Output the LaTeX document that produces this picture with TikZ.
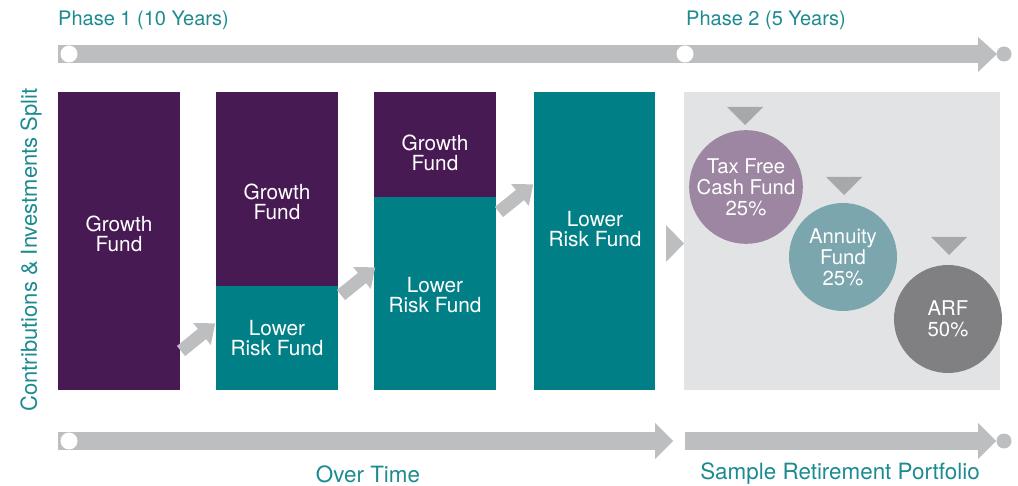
\documentclass[tikz,border=0pt]{standalone}
\usepackage{fontspec}
\setmainfont{TeX Gyre Heros}
\usetikzlibrary{calc}
\definecolor{purp}{HTML}{481A53}
\definecolor{tealc}{HTML}{008086}
\definecolor{txtteal}{HTML}{1C8B91}
\definecolor{bargrey}{HTML}{BDBEC0}
\definecolor{panelgrey}{HTML}{E2E3E5}
\definecolor{trigrey}{HTML}{A7A8AA}
\definecolor{mauve}{HTML}{9C86A1}
\definecolor{bluegrey}{HTML}{7BA6AE}
\definecolor{darkgrey}{HTML}{808083}
\tikzset{
  boxtext/.style={text=white, align=center, font=\fontsize{20.8}{20.5}\selectfont},
  headtext/.style={text=txtteal, font=\fontsize{20}{22}\selectfont, inner sep=0pt},
  fundcircle/.style={circle, minimum size=108pt, inner sep=0pt, text=white, align=center, font=\fontsize{20.3}{21}\selectfont},
  bar/.style={fill=bargrey, draw=none},
  marker/.style={fill=trigrey, draw=none},
}
\begin{document}
\begin{tikzpicture}[x=1pt,y=-1pt]
\useasboundingbox (0,0) rectangle (1018,486);
% top timeline
\fill[bar] (58,45) rectangle (978,63);
\fill[bar] (978,37) -- (997,54) -- (978,72) -- cycle;
\fill[white] (69,54) circle (8.5);
\fill[white] (685,54) circle (8.5);
\fill[bar] (1004,54) circle (7.5);
\node[headtext, anchor=west] (ph1) at (58,20) {Phase 1 (10 Years)};
\node[headtext, anchor=west] (ph2) at (686,20) {Phase 2 (5 Years)};
% bottom timeline
\fill[bar] (58,432) rectangle (655,450);
\fill[bar] (655,423) -- (673,441) -- (655,459) -- cycle;
\fill[bar] (685,432) rectangle (978,450);
\fill[bar] (978,423) -- (996,441) -- (978,459) -- cycle;
\fill[white] (69,441) circle (8.5);
\fill[bar] (1004,441) circle (7.5);
\node[headtext, font=\fontsize{22.4}{24}\selectfont] (ot) at (368,474) {Over Time};
\node[headtext, font=\fontsize{22.4}{24}\selectfont] (srp) at (840,474) {Sample Retirement Portfolio};
% vertical label
\node[headtext, rotate=90, font=\fontsize{22}{24}\selectfont] (ylab) at (31,250) {Contributions \& Investments Split};
% columns
\fill[purp] (58,92) rectangle (180,390);
\node[boxtext] (c1) at (119,234) {Growth\\Fund};
\fill[purp] (216,92) rectangle (338,286);
\fill[tealc] (216,286) rectangle (338,390);
\node[boxtext] (c2a) at (277,202) {Growth\\Fund};
\node[boxtext] (c2b) at (277,338) {Lower\\Risk Fund};
\fill[purp] (374,92) rectangle (496,197);
\fill[tealc] (374,197) rectangle (496,390);
\node[boxtext] (c3a) at (435,153) {Growth\\Fund};
\node[boxtext] (c3b) at (435,295) {Lower\\Risk Fund};
\fill[tealc] (534,92) rectangle (655,390);
\node[boxtext] (c4) at (595,229) {Lower\\Risk Fund};
% diagonal arrows
\foreach \tx/\ty in {181/351, 341/295, 499/212}{
  \begin{scope}[shift={(\tx,\ty)}, rotate=39]
    \fill[bar] (0,-6.5) -- (27,-6.5) -- (27,-14) -- (44,0) -- (27,14) -- (27,6.5) -- (0,6.5) -- cycle;
  \end{scope}
}
\fill[bar] (666,225) -- (684,243.5) -- (666,262) -- cycle;
% panel
\fill[panelgrey] (684,92) rectangle (1000,390);
\fill[marker] (727,107) -- (763,107) -- (745,125) -- cycle;
\fill[marker] (826,177) -- (862,177) -- (844,195) -- cycle;
\fill[marker] (931,237) -- (967,237) -- (949,255) -- cycle;
\node[fundcircle, fill=mauve] (tf) at (746,187) {Tax Free\\Cash Fund\\25\%};
\node[fundcircle, fill=bluegrey] (an) at (843,257) {Annuity\\Fund\\25\%};
\node[fundcircle, fill=darkgrey] (arf) at (948,319) {ARF\\50\%};
\end{tikzpicture}
\end{document}
